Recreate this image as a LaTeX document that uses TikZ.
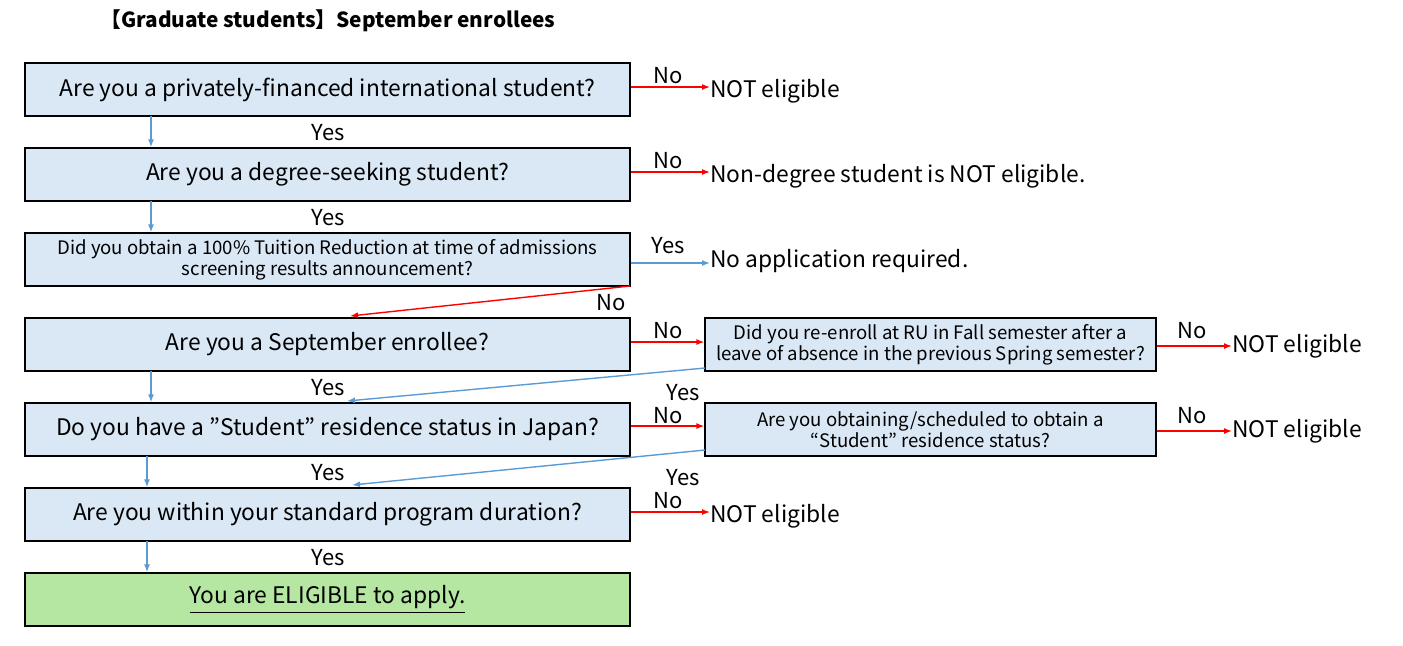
\documentclass[tikz,border=0pt]{standalone}
\usepackage{fontspec}
\setmainfont{Noto Sans CJK JP}
\usetikzlibrary{arrows.meta}
\definecolor{bfill}{HTML}{DAE8F6}
\definecolor{gfill}{HTML}{B5E6A2}
\definecolor{barrow}{HTML}{5B9BD5}
\tikzset{
 qbox/.style={draw=black,line width=0.6pt,fill=bfill,minimum height=26.5pt,inner sep=0pt,align=center,font=\fontsize{11.4}{12}\selectfont},
 sbox/.style={qbox,font=\fontsize{9.3}{10.5}\selectfont},
 txt/.style={inner sep=0pt,anchor=west,font=\fontsize{11.4}{12}\selectfont},
 lab/.style={inner sep=0pt,font=\fontsize{11}{12}\selectfont},
 noarr/.style={red,line width=0.7pt,-{Latex[length=4pt,width=3pt]}},
 yesarr/.style={barrow,line width=0.7pt,-{Latex[length=4pt,width=3pt]}},
}
\begin{document}
\begin{tikzpicture}[x=0.5pt,y=-0.5pt]
\useasboundingbox (0,0) rectangle (1403,645);
\node[inner sep=0pt,font=\bfseries\fontsize{10.4}{12}\selectfont] (title) at (328,21) {【Graduate students】September enrollees};
% main boxes
\node[qbox,minimum width=302.5pt] (b1) at (327.5,89.5) {\raisebox{-1pt}{Are you a privately-financed international student?}};
\node[qbox,minimum width=302.5pt] (b2) at (327.5,174.5) {\raisebox{-1pt}{Are you a degree-seeking student?}};
\node[sbox,minimum width=302.5pt] (b3) at (327.5,259.5) {Did you obtain a 100\% Tuition Reduction at time of admissions\\screening results announcement?};
\node[qbox,minimum width=302.5pt] (b4) at (327.5,344.5) {\raisebox{-1pt}{Are you a September enrollee?}};
\node[qbox,minimum width=302.5pt] (b5) at (327.5,429.5) {\raisebox{-1pt}{Do you have a ”Student” residence status in Japan?}};
\node[qbox,minimum width=302.5pt] (b6) at (327.5,514.5) {\raisebox{-1pt}{Are you within your standard program duration?}};
\node[qbox,minimum width=302.5pt,fill=gfill] (b7) at (327.5,599.5) {\raisebox{-1pt}{\underline{You are ELIGIBLE to apply.}}};
% right boxes
\node[sbox,minimum width=225.5pt] (r1) at (930.5,344.5) {Did you re-enroll at RU in Fall semester after a\\leave of absence in the previous Spring semester?};
\node[sbox,minimum width=225.5pt] (r2) at (930.5,429.5) {Are you obtaining/scheduled to obtain a\\“Student” residence status?};
% end texts
\node[txt] (e1) at (710,91) {NOT eligible};
\node[txt] (e2) at (710,176) {Non-degree student is NOT eligible.};
\node[txt] (e3) at (710,261) {No application required.};
\node[txt] (e4) at (1232,346) {NOT eligible};
\node[txt] (e5) at (1232,431) {NOT eligible};
\node[txt] (e6) at (710,516) {NOT eligible};
% arrows to the right
\draw[noarr] (b1.east |- 0,87) -- (e1.west |- 0,87);
\draw[noarr] (b2.east |- 0,172) -- (e2.west |- 0,172);
\draw[yesarr] (b3.east |- 0,263) -- (e3.west |- 0,263);
\draw[noarr] (b4.east |- 0,342) -- (r1.west |- 0,342);
\draw[noarr] (r1.east |- 0,346) -- (e4.west |- 0,346);
\draw[noarr] (b5.east |- 0,426) -- (r2.west |- 0,426);
\draw[noarr] (r2.east |- 0,431) -- (e5.west |- 0,431);
\draw[noarr] (b6.east |- 0,512) -- (e6.west |- 0,512);
\node[lab] (n1) at (668,76) {No};
\node[lab] (n2) at (668,161) {No};
\node[lab] (y3) at (668,246) {Yes};
\node[lab] (n4) at (668,331) {No};
\node[lab] (n5) at (1192,331) {No};
\node[lab] (n6) at (668,416) {No};
\node[lab] (n7) at (1192,416) {No};
\node[lab] (n8) at (668,501) {No};
% diagonal
\coordinate (d3a) at (630,286);
\coordinate (d3b) at (350,316);
\draw[noarr] (d3a) -- (d3b);
\node[lab] (n3) at (611,303) {No};
\coordinate (d1a) at (705,368);
\coordinate (d1b) at (347,401);
\draw[yesarr] (d1a) -- (d1b);
\node[lab] (yr1) at (683,393) {Yes};
\coordinate (d2a) at (705,450);
\coordinate (d2b) at (352,485);
\draw[yesarr] (d2a) -- (d2b);
\node[lab] (yr2) at (683,478) {Yes};
% down arrows
\draw[yesarr] (151,116) -- (b2.north -| 151,0);
\draw[yesarr] (151,201) -- (b3.north -| 151,0);
\draw[yesarr] (151,371) -- (b5.north -| 151,0);
\draw[yesarr] (147,456) -- (b6.north -| 147,0);
\draw[yesarr] (147,541) -- (b7.north -| 147,0);
\node[lab] (ya) at (328,133) {Yes};
\node[lab] (yb) at (328,218) {Yes};
\node[lab] (yc) at (328,388) {Yes};
\node[lab] (yd) at (328,473) {Yes};
\node[lab] (ye) at (328,558) {Yes};
\end{tikzpicture}
\end{document}
